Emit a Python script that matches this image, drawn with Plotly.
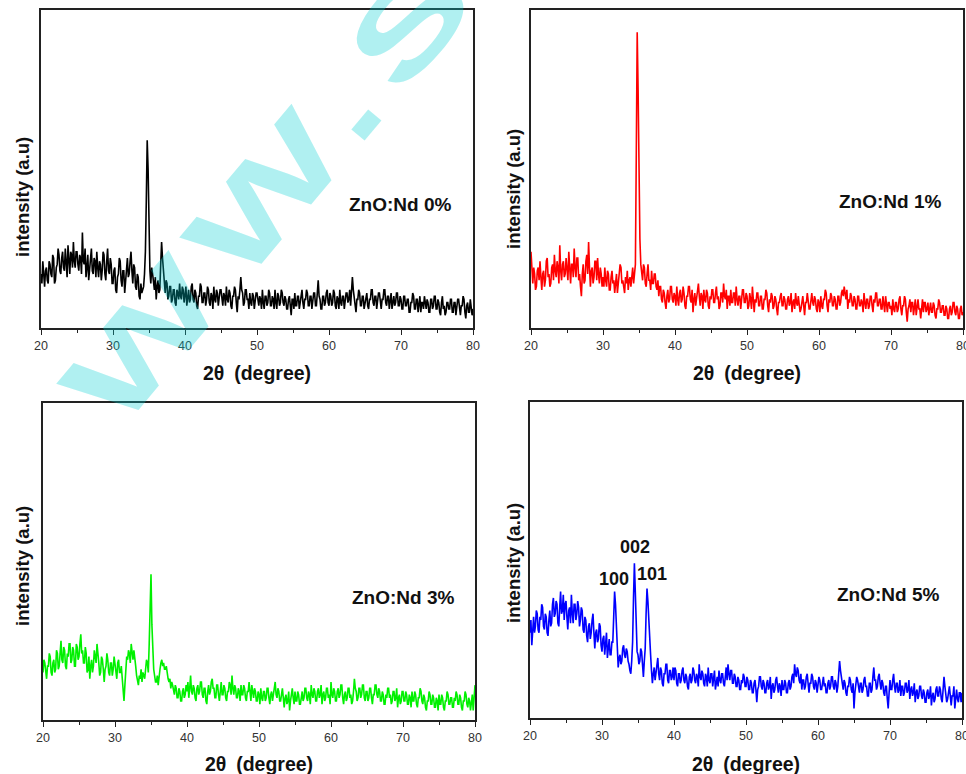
import numpy as np
import plotly.graph_objects as go

W, H = 966, 774

# 2-theta grid (degrees), 0.125 deg step
two_theta = np.round(np.arange(20.0, 80.0001, 0.125), 3)

# intensities (a.u., % of plot height); one row = 5 degrees
nd0 = [
    17, 14, 21, 16, 13, 18, 19, 15, 14, 21, 20, 17, 16, 23, 22, 14, 15, 19, 20, 25, 23, 18, 17, 22, 24, 19, 18, 25, 21, 16, 26, 20, 17, 24, 23, 19, 27, 21, 19, 24,
    24, 20, 18, 23, 22, 17, 30, 21, 20, 25, 16, 19, 23, 15, 19, 24, 25, 18, 17, 22, 21, 16, 24, 19, 16, 21, 20, 15, 18, 24, 23, 17, 15, 21, 25, 18, 17, 22, 20, 14,
    14, 18, 19, 12, 11, 16, 17, 22, 21, 15, 13, 18, 18, 11, 15, 20, 22, 16, 17, 21, 24, 18, 14, 20, 19, 13, 12, 17, 16, 10, 9, 14, 11, 12, 13, 17, 24, 40, 59, 50,
    30, 18, 14, 19, 17, 13, 12, 16, 9, 13, 15, 11, 12, 20, 27, 22, 18, 13, 11, 15, 14, 9, 10, 13, 13, 8, 9, 12, 12, 8, 7, 12, 11, 9, 14, 10, 9, 13, 12, 8,
    10, 13, 7, 11, 12, 8, 9, 13, 14, 9, 8, 12, 11, 7, 6, 10, 10, 14, 13, 8, 8, 11, 11, 7, 9, 13, 12, 8, 7, 11, 10, 6, 13, 9, 8, 12, 11, 7, 9, 12,
    12, 8, 7, 11, 10, 7, 13, 9, 8, 12, 11, 7, 6, 10, 10, 13, 12, 8, 5, 10, 9, 12, 16, 12, 11, 7, 8, 12, 12, 9, 9, 6, 11, 8, 7, 11, 10, 6, 8, 11,
    11, 8, 7, 10, 9, 6, 12, 8, 6, 10, 10, 7, 8, 12, 11, 7, 7, 10, 9, 6, 12, 8, 6, 11, 10, 7, 8, 12, 11, 8, 7, 10, 9, 6, 6, 9, 10, 7, 4, 9,
    9, 6, 11, 7, 7, 10, 10, 6, 8, 11, 12, 8, 6, 9, 9, 12, 11, 7, 7, 10, 10, 6, 8, 11, 11, 7, 7, 10, 15, 10, 9, 6, 6, 10, 10, 7, 8, 11, 12, 8,
    7, 11, 10, 7, 8, 12, 11, 7, 6, 10, 9, 6, 12, 8, 7, 10, 10, 6, 8, 11, 11, 8, 9, 12, 7, 11, 16, 12, 10, 7, 5, 9, 9, 12, 11, 7, 7, 10, 10, 6,
    8, 10, 11, 7, 6, 9, 9, 12, 12, 8, 7, 10, 10, 6, 8, 11, 11, 7, 6, 9, 9, 12, 12, 8, 7, 10, 10, 6, 8, 11, 6, 9, 10, 7, 8, 11, 11, 7, 7, 10,
    9, 6, 6, 10, 10, 7, 7, 9, 9, 5, 5, 8, 8, 11, 10, 6, 6, 9, 9, 5, 7, 10, 5, 8, 8, 6, 10, 7, 6, 9, 8, 5, 5, 9, 9, 6, 7, 10, 10, 6,
    6, 9, 8, 5, 4, 8, 10, 6, 7, 4, 5, 8, 8, 6, 6, 9, 9, 5, 5, 8, 8, 4, 6, 9, 9, 6, 4, 7, 7, 10, 9, 5, 3, 7, 8, 5, 5, 9, 7, 4,
    6,
]
nd1 = [
    24, 17, 14, 19, 17, 12, 13, 18, 19, 15, 21, 16, 12, 17, 18, 13, 15, 21, 22, 16, 17, 13, 14, 19, 20, 15, 23, 18, 16, 21, 19, 14, 26, 18, 15, 20, 21, 16, 17, 22,
    19, 15, 24, 18, 14, 20, 20, 16, 25, 19, 16, 22, 22, 15, 17, 13, 10, 17, 20, 14, 15, 21, 23, 17, 27, 19, 13, 18, 19, 14, 16, 21, 21, 15, 22, 17, 14, 19, 17, 13,
    16, 13, 19, 15, 13, 18, 17, 12, 12, 16, 18, 14, 15, 11, 14, 17, 11, 15, 16, 20, 19, 14, 15, 12, 11, 16, 14, 18, 12, 15, 16, 13, 17, 19, 14, 18, 20, 55, 93, 75,
    45, 28, 20, 16, 15, 20, 19, 14, 13, 17, 20, 15, 15, 12, 18, 14, 14, 17, 17, 13, 12, 15, 10, 13, 13, 9, 8, 12, 11, 8, 6, 10, 12, 8, 9, 13, 13, 9, 8, 11,
    10, 7, 13, 9, 7, 11, 12, 8, 9, 13, 11, 7, 6, 10, 10, 13, 13, 9, 8, 12, 5, 9, 11, 7, 9, 12, 14, 10, 7, 11, 10, 6, 12, 9, 8, 12, 11, 7, 6, 10,
    9, 12, 12, 8, 8, 11, 13, 9, 10, 6, 7, 11, 11, 8, 14, 10, 9, 12, 6, 10, 10, 7, 12, 8, 8, 11, 11, 7, 13, 9, 7, 10, 10, 6, 9, 12, 12, 8, 8, 11,
    10, 6, 7, 11, 9, 6, 13, 8, 5, 9, 8, 11, 11, 7, 7, 10, 10, 6, 6, 9, 9, 12, 11, 7, 5, 9, 8, 11, 10, 6, 7, 10, 9, 6, 4, 8, 8, 10, 11, 7,
    7, 10, 9, 6, 6, 9, 10, 7, 8, 11, 5, 8, 9, 6, 11, 8, 7, 10, 8, 5, 6, 9, 10, 7, 4, 8, 8, 11, 9, 6, 6, 9, 11, 8, 7, 10, 9, 6, 5, 9,
    8, 5, 10, 7, 6, 9, 9, 12, 11, 7, 5, 9, 8, 11, 10, 7, 7, 10, 9, 6, 6, 10, 10, 7, 8, 11, 12, 10, 13, 11, 9, 12, 6, 9, 8, 11, 10, 7, 7, 10,
    9, 6, 6, 10, 10, 7, 7, 9, 8, 5, 11, 8, 6, 9, 9, 6, 7, 10, 10, 7, 5, 9, 8, 11, 11, 7, 7, 9, 9, 6, 6, 10, 8, 5, 10, 7, 5, 8, 8, 6,
    7, 4, 9, 6, 5, 8, 8, 5, 6, 9, 10, 6, 4, 7, 7, 10, 9, 5, 2, 6, 7, 9, 5, 8, 8, 4, 6, 9, 4, 7, 9, 6, 6, 3, 7, 9, 5, 8, 8, 5,
    6, 8, 4, 7, 8, 5, 5, 8, 7, 4, 3, 6, 6, 9, 8, 5, 5, 7, 7, 4, 4, 7, 6, 3, 3, 6, 7, 4, 5, 8, 8, 5, 4, 7, 6, 3, 3, 6, 7, 4,
    5,
]
nd3 = [
    15, 19, 18, 14, 13, 17, 17, 21, 20, 15, 14, 18, 19, 15, 16, 22, 21, 16, 17, 21, 25, 19, 18, 23, 22, 17, 16, 21, 20, 24, 24, 18, 19, 23, 22, 17, 17, 24, 23, 19,
    20, 24, 27, 21, 22, 18, 18, 23, 21, 15, 16, 20, 13, 17, 19, 15, 17, 22, 20, 18, 24, 19, 18, 14, 15, 20, 19, 16, 12, 16, 17, 21, 19, 15, 14, 18, 18, 14, 16, 20,
    17, 14, 13, 18, 19, 15, 15, 17, 12, 9, 6, 11, 16, 20, 19, 22, 21, 18, 24, 21, 19, 22, 20, 17, 14, 12, 11, 14, 13, 16, 12, 15, 14, 13, 16, 19, 18, 15, 24, 38,
    46, 30, 20, 16, 14, 12, 12, 14, 11, 15, 16, 18, 19, 17, 18, 16, 16, 17, 14, 13, 12, 13, 10, 12, 11, 9, 8, 11, 10, 7, 7, 10, 9, 6, 6, 9, 10, 7, 8, 11,
    9, 12, 7, 10, 14, 9, 8, 11, 10, 7, 6, 10, 11, 8, 9, 12, 12, 8, 7, 10, 10, 6, 5, 9, 11, 8, 9, 12, 13, 10, 10, 7, 7, 11, 11, 8, 6, 9, 12, 8,
    8, 11, 10, 7, 6, 9, 9, 12, 11, 8, 14, 10, 8, 11, 10, 7, 7, 10, 9, 6, 11, 8, 8, 11, 10, 7, 6, 9, 9, 12, 8, 6, 11, 8, 7, 10, 9, 6, 6, 9,
    8, 5, 10, 7, 6, 9, 9, 6, 7, 10, 10, 7, 5, 8, 9, 6, 8, 10, 12, 8, 7, 10, 9, 6, 6, 8, 10, 7, 4, 7, 8, 5, 6, 9, 3, 6, 8, 10, 7, 5,
    9, 6, 6, 9, 8, 5, 5, 8, 9, 6, 7, 10, 10, 7, 6, 9, 8, 5, 11, 8, 7, 10, 9, 6, 6, 9, 10, 7, 8, 11, 5, 8, 9, 6, 7, 10, 10, 7, 8, 5,
    12, 8, 7, 10, 9, 6, 6, 9, 10, 7, 8, 11, 11, 7, 5, 8, 9, 6, 7, 10, 10, 7, 8, 5, 6, 9, 13, 10, 9, 6, 7, 10, 10, 7, 8, 11, 11, 7, 6, 9,
    9, 6, 7, 10, 10, 7, 5, 8, 8, 11, 11, 8, 7, 10, 9, 6, 6, 9, 8, 5, 5, 8, 7, 10, 10, 7, 8, 5, 6, 9, 9, 6, 7, 10, 4, 7, 8, 5, 6, 9,
    9, 6, 6, 9, 8, 5, 5, 8, 7, 4, 9, 6, 6, 9, 8, 5, 4, 7, 7, 10, 9, 6, 5, 8, 7, 4, 3, 6, 6, 9, 8, 5, 5, 8, 7, 4, 4, 7, 6, 3,
    8, 5, 5, 8, 7, 4, 3, 6, 6, 9, 8, 5, 5, 7, 7, 4, 4, 7, 6, 9, 8, 5, 5, 8, 7, 4, 3, 6, 6, 9, 8, 5, 4, 7, 6, 3, 5, 8, 3, 6,
    11,
]
nd5 = [
    27, 31, 23, 28, 32, 27, 29, 34, 33, 28, 27, 32, 31, 36, 35, 29, 28, 33, 32, 27, 26, 31, 34, 29, 30, 36, 38, 32, 33, 37, 36, 30, 29, 35, 40, 33, 34, 39, 31, 36,
    37, 32, 28, 34, 35, 30, 39, 33, 30, 36, 36, 31, 33, 37, 35, 29, 31, 35, 34, 28, 27, 32, 31, 26, 24, 29, 30, 25, 27, 31, 33, 27, 22, 27, 28, 24, 25, 30, 29, 23,
    21, 25, 26, 20, 23, 27, 19, 23, 25, 20, 20, 24, 24, 32, 40, 36, 30, 20, 16, 19, 20, 17, 18, 22, 23, 20, 19, 22, 21, 18, 17, 15, 14, 18, 24, 38, 49, 40, 27, 21,
    20, 17, 18, 22, 21, 16, 13, 18, 22, 33, 41, 37, 30, 24, 20, 15, 11, 14, 16, 12, 14, 17, 19, 14, 12, 16, 15, 11, 10, 14, 14, 17, 17, 12, 11, 15, 15, 12, 13, 16,
    12, 16, 15, 11, 10, 14, 14, 11, 12, 15, 16, 12, 11, 14, 13, 10, 9, 13, 14, 11, 12, 16, 15, 12, 11, 14, 13, 10, 17, 13, 12, 15, 14, 11, 10, 14, 13, 10, 16, 12,
    11, 14, 14, 10, 12, 15, 9, 12, 13, 10, 15, 12, 11, 14, 14, 11, 10, 13, 16, 12, 17, 14, 12, 15, 15, 11, 11, 14, 13, 10, 10, 13, 12, 9, 9, 12, 11, 14, 13, 10,
    10, 13, 12, 9, 9, 12, 11, 8, 8, 11, 12, 9, 5, 9, 10, 13, 13, 10, 9, 12, 11, 8, 8, 11, 12, 9, 10, 13, 6, 10, 11, 8, 9, 12, 13, 10, 8, 11, 10, 7,
    12, 9, 9, 12, 11, 8, 8, 11, 12, 9, 10, 13, 14, 11, 17, 14, 13, 16, 15, 12, 11, 14, 9, 12, 12, 9, 10, 13, 14, 11, 8, 11, 11, 14, 13, 10, 9, 12, 11, 8,
    10, 13, 12, 9, 9, 12, 13, 10, 11, 8, 8, 11, 12, 9, 10, 13, 13, 10, 9, 12, 11, 8, 10, 14, 18, 15, 13, 10, 9, 12, 11, 8, 7, 10, 10, 13, 12, 9, 8, 11,
    3, 8, 10, 13, 12, 9, 8, 11, 11, 8, 9, 12, 13, 10, 10, 7, 7, 11, 11, 8, 9, 13, 16, 12, 12, 9, 10, 13, 14, 11, 9, 12, 11, 8, 7, 10, 10, 6, 3, 8,
    12, 9, 9, 12, 14, 10, 8, 11, 11, 8, 9, 12, 7, 10, 10, 7, 8, 11, 11, 8, 9, 12, 6, 9, 10, 7, 8, 11, 5, 8, 9, 6, 7, 10, 10, 7, 6, 9, 8, 5,
    5, 8, 9, 6, 7, 10, 4, 7, 8, 5, 6, 9, 10, 7, 7, 10, 9, 6, 5, 9, 13, 10, 8, 5, 6, 9, 10, 7, 4, 7, 7, 10, 3, 6, 9, 6, 5, 8, 8, 5,
    8,
]

panel_series = [nd0, nd1, nd3, nd5]
panel_colors = ["#000000", "#ff0000", "#00f000", "#0000ff"]
panel_labels = ["ZnO:Nd 0%", "ZnO:Nd 1%", "ZnO:Nd 3%", "ZnO:Nd 5%"]
x_ticks = [20, 30, 40, 50, 60, 70, 80]
peak_labels = ["100", "002", "101"]
peak_label_pos = [(614, 579), (635, 547), (652, 574)]   # pixel centres
watermark_text = "WW.SP"

# plot-box pixel geometry (left, right, top, bottom)
boxes = [(41, 473, 10, 328), (531, 963, 10, 328), (43, 475, 403, 720), (530, 962, 402, 718)]
label_pos = [(400, 205), (890, 201), (403, 597), (888, 594)]
ytitle_pos = [(22, 197), (513, 189), (22, 566), (513, 563)]
xtitle_y = [373, 373, 764, 764]

def px(x):
    return x / W

def py(y):
    return 1 - y / H

fig = go.Figure()
FONT = "Liberation Sans, Arial, sans-serif"
layout = dict(
    width=W, height=H,
    margin=dict(l=0, r=0, t=0, b=0, autoexpand=False),
    paper_bgcolor="white", plot_bgcolor="white",
    showlegend=False,
    font=dict(family=FONT),
)
annotations = []
for i, (ys, col) in enumerate(zip(panel_series, panel_colors)):
    n = i + 1
    xa = "x" if n == 1 else f"x{n}"
    ya = "y" if n == 1 else f"y{n}"
    m = min(len(ys), len(two_theta))
    fig.add_trace(go.Scatter(x=two_theta[:m], y=ys[:m], mode="lines",
                             line=dict(color=col, width=1.6),
                             xaxis=xa, yaxis=ya, hoverinfo="skip"))
    l, r, t, b = boxes[i]
    layout["xaxis" if n == 1 else f"xaxis{n}"] = dict(
        domain=[px(l), px(r)], range=[20, 80], anchor=ya,
        showline=True, linecolor="#222", linewidth=1.5, mirror=True,
        showgrid=False, zeroline=False, automargin=False, ticklabeloverflow="allow",
        ticks="outside", ticklen=5, tickwidth=1.2, tickcolor="#222",
        tickvals=x_ticks, ticktext=[str(v) for v in x_ticks],
        tickfont=dict(size=12.5, color="#333", family=FONT),
        minor=dict(ticks="outside", ticklen=3, tickwidth=1.2, tickcolor="#222", dtick=5, tick0=25, showgrid=False),
    )
    layout["yaxis" if n == 1 else f"yaxis{n}"] = dict(
        domain=[py(b), py(t)], range=[0, 100], anchor=xa,
        showline=True, linecolor="#222", linewidth=1.5, mirror=True,
        showgrid=False, zeroline=False, ticks="", showticklabels=False, automargin=False,
    )
    lx, ly = label_pos[i]
    annotations.append(dict(text=f"<b>{panel_labels[i]}</b>", x=px(lx), y=py(ly), xref="paper", yref="paper",
                            showarrow=False, xanchor="center", yanchor="middle",
                            font=dict(size=19, color="#111", family=FONT)))
    tx, ty = ytitle_pos[i]
    annotations.append(dict(text="<b>intensity (a.u)</b>", x=px(tx), y=py(ty), xref="paper", yref="paper",
                            showarrow=False, xanchor="center", yanchor="middle", textangle=-90,
                            font=dict(size=18.5, color="#111", family=FONT)))
    annotations.append(dict(text="<b>2θ\u2002(degree)</b>", x=px((l + r) / 2), y=py(xtitle_y[i]),
                            xref="paper", yref="paper", showarrow=False, xanchor="center", yanchor="middle",
                            font=dict(size=19.5, color="#111", family=FONT)))

for txt, (lx, ly) in zip(peak_labels, peak_label_pos):
    annotations.append(dict(text=f"<b>{txt}</b>", x=px(lx), y=py(ly), xref="paper", yref="paper",
                            showarrow=False, xanchor="center", yanchor="middle",
                            font=dict(size=18, color="#111", family=FONT)))

# watermark (stretched horizontally afterwards, see post_script)
annotations.append(dict(text=f"<b>{watermark_text}</b>", x=px(318), y=py(134), xref="paper", yref="paper",
                        showarrow=False, xanchor="center", yanchor="middle", textangle=-50,
                        font=dict(size=116, color="rgba(0,205,210,0.31)", family=FONT)))

layout["annotations"] = annotations
fig.update_layout(**layout)

post_js = """
document.body.style.margin = '0';
document.documentElement.style.overflow = 'hidden';
function stretchWatermark() {
  var gd = document.getElementById('{plot_id}');
  var texts = gd.querySelectorAll('text.annotation-text');
  texts.forEach(function(el) {
    if (el.textContent === '%s') {
      el.style.letterSpacing = '10px';
      el.style.transformBox = 'fill-box';
      el.style.transformOrigin = 'center';
      el.style.transform = 'scaleX(1.6)';
    }
  });
}
stretchWatermark();
setTimeout(stretchWatermark, 50);
""" % watermark_text

fig.write_html("out.html", post_script=post_js, config={"displayModeBar": False, "responsive": False})
